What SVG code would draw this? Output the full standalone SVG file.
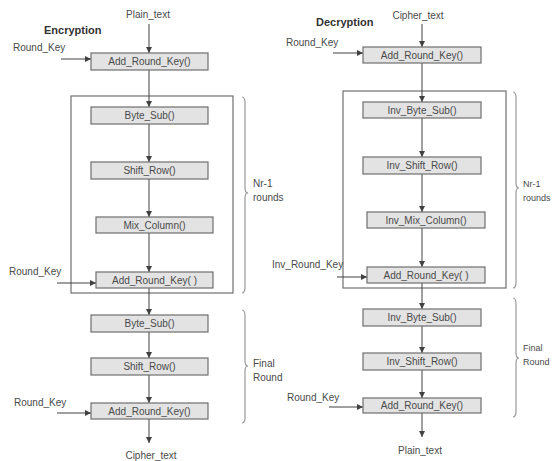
<svg xmlns="http://www.w3.org/2000/svg" width="553" height="461" viewBox="0 0 553 461">
<defs>
<marker id="ah" viewBox="0 0 6 6" refX="6" refY="3" markerWidth="6" markerHeight="6" markerUnits="userSpaceOnUse" orient="auto">
<path d="M0,0 L6,3 L0,6 Z" fill="#404040"/>
</marker>
<style>
text{font-family:"Liberation Sans",Arial,sans-serif;font-size:10px;fill:#4a4a4a}
.c{text-anchor:middle}
.t{font-weight:bold;font-size:11px;fill:#333}
.s{font-size:9px}
.box{fill:#e3e3e3;stroke:#6e6e6e;stroke-width:1.2}
.frame{fill:none;stroke:#707070;stroke-width:1.2}
.ar{stroke:#404040;stroke-width:1;fill:none;marker-end:url(#ah)}
.br{stroke:#9a9a9a;stroke-width:1.2;fill:none}
</style>
</defs>
<rect width="553" height="461" fill="#ffffff"/>

<!-- frames -->
<g id="frame-enc"><rect class="frame" x="71" y="96" width="162" height="197"/></g>
<g id="frame-dec"><rect class="frame" x="343" y="91" width="163" height="197"/></g>

<g id="connectors">
<!-- encryption -->
<line class="ar" x1="149" y1="24" x2="149" y2="53"/>
<line class="ar" x1="61" y1="59" x2="91" y2="59"/>
<line class="ar" x1="149" y1="70" x2="149" y2="107"/>
<line class="ar" x1="149" y1="124" x2="149" y2="162"/>
<line class="ar" x1="149" y1="179" x2="149" y2="217"/>
<line class="ar" x1="149" y1="233" x2="149" y2="272"/>
<line class="ar" x1="57" y1="283" x2="96" y2="283"/>
<line class="ar" x1="149" y1="288" x2="149" y2="315"/>
<line class="ar" x1="149" y1="332" x2="149" y2="358"/>
<line class="ar" x1="149" y1="375" x2="149" y2="403"/>
<line class="ar" x1="57" y1="413" x2="91" y2="413"/>
<line class="ar" x1="149" y1="419" x2="149" y2="443"/>
<!-- decryption -->
<line class="ar" x1="422" y1="24" x2="422" y2="47"/>
<line class="ar" x1="333" y1="53" x2="363" y2="53"/>
<line class="ar" x1="422" y1="63" x2="422" y2="102"/>
<line class="ar" x1="422" y1="118" x2="422" y2="157"/>
<line class="ar" x1="422" y1="174" x2="422" y2="212"/>
<line class="ar" x1="422" y1="228" x2="422" y2="267"/>
<line class="ar" x1="337" y1="277" x2="367" y2="277"/>
<line class="ar" x1="422" y1="283" x2="422" y2="309"/>
<line class="ar" x1="422" y1="326" x2="422" y2="353"/>
<line class="ar" x1="422" y1="370" x2="422" y2="398"/>
<line class="ar" x1="329" y1="407" x2="363" y2="407"/>
<line class="ar" x1="422" y1="413" x2="422" y2="437"/>
</g>

<!-- braces -->
<g id="brace-enc-rounds"><path class="br" d="M242,97 Q245,97 245,103 L245,188 Q245,193 248,193 Q245,193 245,198 L245,287 Q245,293 242,293"/></g>
<g id="brace-enc-final"><path class="br" d="M242,310 Q245,310 245,316 L245,361 Q245,366 248,366 Q245,366 245,371 L245,417 Q245,423 242,423"/></g>
<g id="brace-dec-rounds"><path class="br" d="M513,92 Q516,92 516,98 L516,183 Q516,188 519,188 Q516,188 516,193 L516,282 Q516,288 513,288"/></g>
<g id="brace-dec-final"><path class="br" d="M513,298 Q516,298 516,304 L516,353 Q516,358 519,358 Q516,358 516,363 L516,411 Q516,417 513,417"/></g>

<!-- encryption labels -->
<g id="enc-title"><text class="t" x="44" y="34">Encryption</text></g>
<g id="enc-plain"><text class="c" x="148" y="18">Plain_text</text></g>
<g id="enc-rk1"><text x="13" y="51">Round_Key</text></g>
<g id="enc-rk2"><text x="9" y="275">Round_Key</text></g>
<g id="enc-rk3"><text x="14" y="406">Round_Key</text></g>
<g id="enc-cipher"><text class="c" x="151" y="459">Cipher_text</text></g>
<g id="enc-nr"><text x="253" y="187">Nr-1</text><text x="253" y="201">rounds</text></g>
<g id="enc-final"><text x="253" y="367">Final</text><text x="253" y="381">Round</text></g>

<!-- encryption nodes -->
<g id="enc-ark0"><rect class="box" x="91" y="53" width="117" height="17"/><text class="c" x="149.5" y="65">Add_Round_Key()</text></g>
<g id="enc-bs1"><rect class="box" x="91" y="107" width="117" height="17"/><text class="c" x="149.5" y="119">Byte_Sub()</text></g>
<g id="enc-sr1"><rect class="box" x="91" y="162" width="117" height="17"/><text class="c" x="149.5" y="174">Shift_Row()</text></g>
<g id="enc-mc"><rect class="box" x="96" y="217" width="117" height="16"/><text class="c" x="154.5" y="229">Mix_Column()</text></g>
<g id="enc-ark1"><rect class="box" x="96" y="272" width="117" height="16"/><text class="c" x="154.5" y="284">Add_Round_Key( )</text></g>
<g id="enc-bs2"><rect class="box" x="91" y="315" width="117" height="17"/><text class="c" x="149.5" y="327">Byte_Sub()</text></g>
<g id="enc-sr2"><rect class="box" x="91" y="358" width="117" height="17"/><text class="c" x="149.5" y="370">Shift_Row()</text></g>
<g id="enc-ark2"><rect class="box" x="91" y="403" width="117" height="16"/><text class="c" x="149.5" y="415">Add_Round_Key()</text></g>

<!-- decryption labels -->
<g id="dec-title"><text class="t" x="316" y="26">Decryption</text></g>
<g id="dec-cipher"><text class="c" x="418" y="19">Cipher_text</text></g>
<g id="dec-rk1"><text x="286" y="46">Round_Key</text></g>
<g id="dec-irk"><text x="272" y="268">Inv_Round_Key</text></g>
<g id="dec-rk2"><text x="287" y="401">Round_Key</text></g>
<g id="dec-plain"><text class="c" x="420" y="454">Plain_text</text></g>
<g id="dec-nr"><text class="s" x="523" y="187">Nr-1</text><text class="s" x="523" y="201">rounds</text></g>
<g id="dec-final"><text class="s" x="523" y="351">Final</text><text class="s" x="523" y="365">Round</text></g>

<!-- decryption nodes -->
<g id="dec-ark0"><rect class="box" x="363" y="47" width="118" height="16"/><text class="c" x="422" y="59">Add_Round_Key()</text></g>
<g id="dec-ibs1"><rect class="box" x="363" y="102" width="118" height="16"/><text class="c" x="422" y="114">Inv_Byte_Sub()</text></g>
<g id="dec-isr1"><rect class="box" x="363" y="157" width="118" height="17"/><text class="c" x="422" y="169">Inv_Shift_Row()</text></g>
<g id="dec-imc"><rect class="box" x="367" y="212" width="118" height="16"/><text class="c" x="426" y="224">Inv_Mix_Column()</text></g>
<g id="dec-ark1"><rect class="box" x="367" y="267" width="118" height="16"/><text class="c" x="426" y="279">Add_Round_Key( )</text></g>
<g id="dec-ibs2"><rect class="box" x="363" y="309" width="118" height="17"/><text class="c" x="422" y="321">Inv_Byte_Sub()</text></g>
<g id="dec-isr2"><rect class="box" x="363" y="353" width="118" height="17"/><text class="c" x="422" y="365">Inv_Shift_Row()</text></g>
<g id="dec-ark2"><rect class="box" x="363" y="398" width="118" height="15"/><text class="c" x="422" y="409">Add_Round_Key()</text></g>
</svg>
